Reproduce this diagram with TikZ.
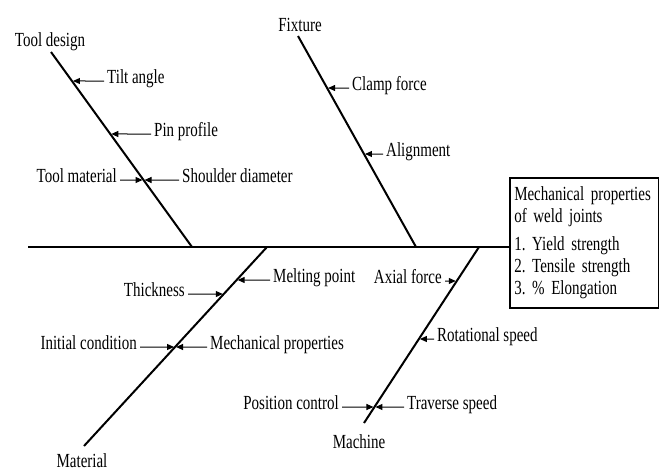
\documentclass[tikz,border=0pt]{standalone}
\usepackage{fontspec}
\setmainfont{Liberation Serif}[FakeStretch=0.75]
\usetikzlibrary{arrows.meta, calc}
\frenchspacing

\begin{document}
\begin{tikzpicture}[x=1pt, y=-1pt, font=\fontsize{20}{22}\selectfont,
  bone/.style={line width=2pt},
  cause/.style={inner sep=3pt, text height=0.68em, text depth=0.2em},
  tip/.style={-{Triangle[length=7pt, width=6pt]}, line width=1pt, shorten >=1pt}]
\useasboundingbox (0,0) rectangle (659,471);
% effect box and spine
\node[draw, line width=1.5pt, anchor=north west, align=left, text width=140pt, inner xsep=4.5pt, inner ysep=9pt] (effect) at (509,177) {Mechanical properties\\of weld joints\\[6pt]1. Yield strength\\2. Tensile strength\\3. \% Elongation};
\coordinate (tail) at (28,247);
\draw[line width=2.5pt] (tail) -- (tail -| effect.west);
% main bones
\coordinate (td1) at (51,52);   \coordinate (td2) at (192,247);
\coordinate (fx1) at (298,36);  \coordinate (fx2) at (416,247);
\coordinate (mt1) at (84,446);  \coordinate (mt2) at (267,247);
\coordinate (mc1) at (364,423); \coordinate (mc2) at (479,247);
\draw[bone] (td1) -- (td2);
\draw[bone] (fx1) -- (fx2);
\draw[bone] (mt2) -- (mt1);
\draw[bone] (mc2) -- (mc1);
\node (tooldesign) at (50,42) {Tool design};
\node (fixture) at (300,25) {Fixture};
\node (material) at (82,461) {Material};
\node (machine) at (359,442) {Machine};
% points on the bones
\coordinate (p-tilt) at ($(td1)!{(81-52)/195}!(td2)$);
\coordinate (p-pin) at ($(td1)!{(134-52)/195}!(td2)$);
\coordinate (p-shoulder) at ($(td1)!{(180-52)/195}!(td2)$);
\coordinate (p-clamp) at ($(fx1)!{(88-36)/211}!(fx2)$);
\coordinate (p-align) at ($(fx1)!{(154-36)/211}!(fx2)$);
\coordinate (p-melt) at ($(mt2)!{(280-247)/199}!(mt1)$);
\coordinate (p-thick) at ($(mt2)!{(294-247)/199}!(mt1)$);
\coordinate (p-init) at ($(mt2)!{(347-247)/199}!(mt1)$);
\coordinate (p-axial) at ($(mc2)!{(281-247)/176}!(mc1)$);
\coordinate (p-rot) at ($(mc2)!{(339-247)/176}!(mc1)$);
\coordinate (p-trav) at ($(mc2)!{(407-247)/176}!(mc1)$);
% causes
\node[cause, anchor=west] (tiltangle) at (104,81) {Tilt angle};
\node[cause, anchor=west] (pinprofile) at (151,134) {Pin profile};
\node[cause, anchor=west] (shoulder) at (179,180) {Shoulder diameter};
\node[cause, anchor=east] (toolmat) at (120,180) {Tool material};
\node[cause, anchor=west] (clamp) at (349,88) {Clamp force};
\node[cause, anchor=west] (alignment) at (383,154) {Alignment};
\node[cause, anchor=west] (melting) at (270,280) {Melting point};
\node[cause, anchor=east] (thickness) at (188,294) {Thickness};
\node[cause, anchor=east] (initial) at (140,347) {Initial condition};
\node[cause, anchor=west] (mechprop) at (207,347) {Mechanical properties};
\node[cause, anchor=east] (axial) at (445,281) {Axial force};
\node[cause, anchor=west] (rotational) at (434,339) {Rotational speed};
\node[cause, anchor=east] (position) at (342,407) {Position control};
\node[cause, anchor=west] (traverse) at (404,407) {Traverse speed};
\draw[tip] (tiltangle.west) -- (p-tilt);
\draw[tip] (pinprofile.west) -- (p-pin);
\draw[tip] (shoulder.west) -- (p-shoulder);
\draw[tip] (toolmat.east) -- (p-shoulder);
\draw[tip] (clamp.west) -- (p-clamp);
\draw[tip] (alignment.west) -- (p-align);
\draw[tip] (melting.west) -- (p-melt);
\draw[tip] (thickness.east) -- (p-thick);
\draw[tip] (initial.east) -- (p-init);
\draw[tip] (mechprop.west) -- (p-init);
\draw[tip] (axial.east) -- (p-axial);
\draw[tip] (rotational.west) -- (p-rot);
\draw[tip] (position.east) -- (p-trav);
\draw[tip] (traverse.west) -- (p-trav);
\end{tikzpicture}
\end{document}
